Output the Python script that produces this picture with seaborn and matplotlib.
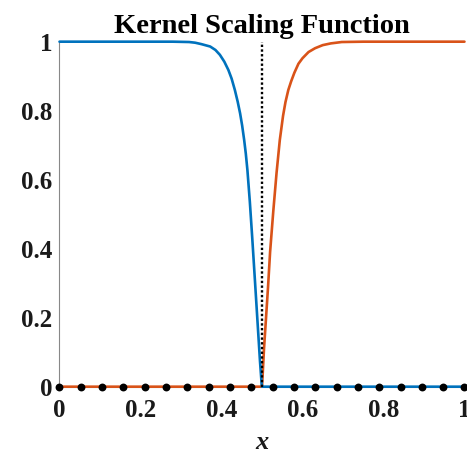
import matplotlib
matplotlib.use("Agg")
import matplotlib.pyplot as plt
import seaborn as sns
import pandas as pd

# ---- data ----
blue_x = [0, 0.10, 0.20, 0.28, 0.32, 0.335, 0.35, 0.372, 0.385, 0.396, 0.407, 0.417,
          0.425, 0.433, 0.440, 0.446, 0.451, 0.456, 0.460, 0.464, 0.470, 0.476, 0.483,
          0.487, 0.491, 0.495, 0.499, 0.5, 0.6, 0.8, 1.0]
blue_y = [1, 1, 1, 1.0, 0.999, 0.997, 0.993, 0.986, 0.976, 0.962, 0.942, 0.918,
          0.893, 0.860, 0.826, 0.792, 0.757, 0.715, 0.676, 0.628, 0.536, 0.43, 0.30,
          0.225, 0.15, 0.075, 0.01, 0.0, 0, 0, 0]

orange_x = [0, 0.25, 0.5, 0.501, 0.505, 0.510, 0.515, 0.520, 0.528, 0.536, 0.544,
            0.552, 0.558, 0.565, 0.572, 0.580, 0.590, 0.600, 0.615, 0.631, 0.650,
            0.670, 0.697, 0.75, 0.85, 1.0]
orange_y = [0, 0, 0, 0.02, 0.11, 0.20, 0.29, 0.39, 0.51, 0.62, 0.715,
            0.785, 0.825, 0.86, 0.885, 0.91, 0.936, 0.952, 0.970, 0.981, 0.990,
            0.995, 0.999, 1, 1, 1]

dot_x = [0, 0.0526, 0.1053, 0.1579, 0.2105, 0.2632, 0.3158, 0.3684, 0.4211, 0.4737,
         0.5263, 0.5789, 0.6316, 0.6842, 0.7368, 0.7895, 0.8421, 0.8947, 0.9474, 1.0]
dot_y = [0] * len(dot_x)

center_x = [0.5, 0.5]
center_y = [0, 1]

x_ticks = [0, 0.2, 0.4, 0.6, 0.8, 1]
x_tick_labels = ["0", "0.2", "0.4", "0.6", "0.8", "1"]
y_ticks = [0, 0.2, 0.4, 0.6, 0.8, 1]
y_tick_labels = ["0", "0.2", "0.4", "0.6", "0.8", "1"]

sns.set_style("white")
plt.rcParams["font.family"] = ["Liberation Serif", "DejaVu Serif"]
plt.rcParams["font.weight"] = "bold"

fig = plt.figure(figsize=(4.67, 4.53), dpi=100)
ax = fig.add_axes([0.1274, 0.1464, 0.8672, 0.7616])

blue_df = pd.DataFrame({"x": blue_x, "y": blue_y})
orange_df = pd.DataFrame({"x": orange_x, "y": orange_y})
dots_df = pd.DataFrame({"x": dot_x, "y": dot_y})
center_df = pd.DataFrame({"x": center_x, "y": center_y})

sns.lineplot(data=orange_df, x="x", y="y", color="#D95319", linewidth=1.9,
             sort=False, estimator=None, ax=ax, zorder=3, clip_on=False)
sns.lineplot(data=blue_df, x="x", y="y", color="#0072BD", linewidth=1.9,
             sort=False, estimator=None, ax=ax, zorder=3, clip_on=False)
sns.lineplot(data=center_df, x="x", y="y", color="black", linewidth=1.7,
             linestyle=(0, (1, 1)), sort=False, estimator=None, ax=ax, zorder=4)
sns.scatterplot(data=dots_df, x="x", y="y", color="black", s=32, edgecolor="black",
                linewidth=0, ax=ax, zorder=5, clip_on=False)

ax.set_xlim(0, 1)
ax.set_ylim(0, 1)
ax.set_xticks(x_ticks)
ax.set_xticklabels(x_tick_labels)
ax.set_yticks(y_ticks)
ax.set_yticklabels(y_tick_labels)

for side in ["top", "right"]:
    ax.spines[side].set_visible(False)
for side in ["left", "bottom"]:
    ax.spines[side].set_color("#888888")
    ax.spines[side].set_linewidth(0.8)
    ax.spines[side].set_zorder(1)

ax.tick_params(axis="both", direction="in", length=3, width=0.8, color="#888888",
               labelsize=18, labelcolor="#1a1a1a")
ax.tick_params(axis="y", pad=5)
ax.tick_params(axis="x", pad=9)
for lbl in ax.get_xticklabels() + ax.get_yticklabels():
    lbl.set_fontweight("bold")

ax.set_xlabel("x", fontsize=19, fontstyle="italic",
              fontweight="bold", color="#1a1a1a", labelpad=6)
ax.set_ylabel("")
ax.set_title("Kernel Scaling Function", fontsize=20.5, fontweight="bold", pad=6,
             color="black")

fig.savefig("out.png", dpi=100)
